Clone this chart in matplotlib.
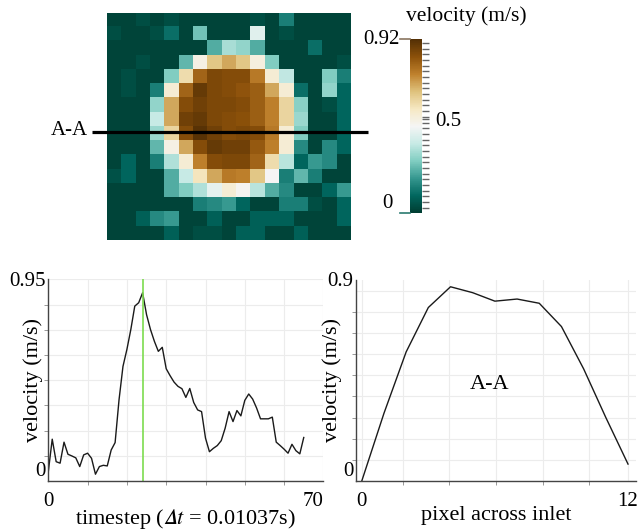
import matplotlib
matplotlib.use("Agg")
import matplotlib.pyplot as plt
import numpy as np
from matplotlib.cm import ScalarMappable
from matplotlib.colors import Normalize

plt.rcParams['font.family'] = ['Liberation Serif', 'DejaVu Serif']
plt.rcParams['mathtext.fontset'] = 'stix'

# velocity map over the inlet (m/s), 16 rows x 17 pixels, top row first
inlet_velocity = [
    [0.02, 0.02, 0.04, 0.02, 0.04, 0.02, 0.02, 0.02, 0.02, 0.02, 0.04, 0.02, 0.14, 0.02, 0.02, 0.02, 0.02],
    [0.04, 0.02, 0.02, 0.04, 0.11, 0.02, 0.26, 0.02, 0.02, 0.02, 0.42, 0.02, 0.04, 0.02, 0.02, 0.02, 0.02],
    [0.02, 0.02, 0.02, 0.02, 0.02, 0.02, 0.02, 0.22, 0.33, 0.30, 0.22, 0.02, 0.02, 0.02, 0.11, 0.02, 0.02],
    [0.02, 0.02, 0.04, 0.02, 0.02, 0.24, 0.49, 0.63, 0.68, 0.63, 0.50, 0.28, 0.02, 0.02, 0.02, 0.02, 0.04],
    [0.02, 0.04, 0.02, 0.02, 0.28, 0.58, 0.79, 0.85, 0.84, 0.84, 0.75, 0.52, 0.36, 0.02, 0.02, 0.28, 0.14],
    [0.02, 0.04, 0.02, 0.14, 0.52, 0.79, 0.89, 0.85, 0.84, 0.82, 0.80, 0.68, 0.52, 0.11, 0.02, 0.30, 0.09],
    [0.02, 0.02, 0.02, 0.30, 0.68, 0.84, 0.87, 0.85, 0.85, 0.84, 0.80, 0.74, 0.60, 0.29, 0.02, 0.04, 0.09],
    [0.02, 0.02, 0.02, 0.37, 0.68, 0.87, 0.89, 0.85, 0.84, 0.83, 0.80, 0.74, 0.60, 0.31, 0.02, 0.02, 0.09],
    [0.02, 0.02, 0.02, 0.31, 0.60, 0.84, 0.91, 0.87, 0.84, 0.85, 0.84, 0.75, 0.52, 0.28, 0.02, 0.02, 0.09],
    [0.02, 0.02, 0.02, 0.24, 0.49, 0.68, 0.84, 0.89, 0.87, 0.87, 0.81, 0.74, 0.52, 0.16, 0.02, 0.16, 0.09],
    [0.02, 0.09, 0.02, 0.14, 0.34, 0.52, 0.74, 0.84, 0.85, 0.85, 0.79, 0.58, 0.35, 0.09, 0.19, 0.16, 0.02],
    [0.05, 0.09, 0.02, 0.02, 0.22, 0.37, 0.56, 0.68, 0.75, 0.74, 0.63, 0.46, 0.14, 0.24, 0.14, 0.02, 0.02],
    [0.02, 0.02, 0.02, 0.02, 0.22, 0.28, 0.34, 0.43, 0.52, 0.47, 0.35, 0.22, 0.16, 0.02, 0.02, 0.09, 0.19],
    [0.02, 0.02, 0.02, 0.02, 0.02, 0.02, 0.14, 0.16, 0.19, 0.09, 0.02, 0.02, 0.14, 0.14, 0.04, 0.02, 0.09],
    [0.02, 0.02, 0.08, 0.16, 0.19, 0.02, 0.02, 0.08, 0.02, 0.02, 0.08, 0.08, 0.08, 0.02, 0.02, 0.02, 0.09],
    [0.02, 0.02, 0.02, 0.02, 0.08, 0.02, 0.04, 0.04, 0.02, 0.08, 0.08, 0.02, 0.02, 0.08, 0.02, 0.02, 0.02],
]
vmin, vmax = 0.0, 0.92
section_row = 7.86  # where A-A cuts the map

# velocity of the inlet over time
timestep_velocity = [
    0.044, 0.197, 0.091, 0.084, 0.183, 0.126, 0.118, 0.109, 0.068, 0.123,
    0.131, 0.107, 0.032, 0.068, 0.074, 0.071, 0.146, 0.181, 0.383, 0.540,
    0.620, 0.714, 0.824, 0.840, 0.887, 0.784, 0.714, 0.658, 0.611, 0.630,
    0.529, 0.496, 0.466, 0.446, 0.435, 0.394, 0.436, 0.370, 0.335, 0.327,
    0.202, 0.138, 0.154, 0.167, 0.190, 0.249, 0.327, 0.280, 0.332, 0.307,
    0.380, 0.410, 0.386, 0.344, 0.293, 0.293, 0.293, 0.301, 0.183, 0.167,
    0.150, 0.131, 0.173, 0.143, 0.128, 0.205,
]
peak_step = 24

# velocity along section A-A
pixels = list(range(13))
section_velocity = [0.0, 0.32, 0.61, 0.82, 0.918, 0.89, 0.85, 0.86, 0.84, 0.73, 0.53, 0.30, 0.08]

W, H = 638, 532
fig = plt.figure(figsize=(W / 100, H / 100), dpi=100)


def box(x0, y0, x1, y1):
    # pixel box (top-left origin) -> figure fraction
    return [x0 / W, 1 - y1 / H, (x1 - x0) / W, (y1 - y0) / H]


# %% velocity map
grid = np.array(inlet_velocity)
ax_map = fig.add_axes(box(107.3, 13, 350.4, 240.2))
ax_map.imshow(grid, cmap='BrBG_r', vmin=vmin, vmax=vmax,
              interpolation='nearest', aspect='auto')
ax_map.plot([-1.57, 17.73], [section_row, section_row], color='black', lw=2.3,
            clip_on=False, solid_capstyle='butt')
ax_map.set_xlim(-0.5, grid.shape[1] - 0.5)
ax_map.set_ylim(grid.shape[0] - 0.5, -0.5)
ax_map.axis('off')
ax_map.text(-1.85, section_row - 0.1, 'A-A', ha='right', va='center', fontsize=15)

# %% colour bar
cax = fig.add_axes(box(410, 39.3, 421.7, 213.3))
cbar = fig.colorbar(ScalarMappable(Normalize(vmin, vmax), 'BrBG_r'), cax=cax)
cbar.outline.set_visible(False)
cbar.set_ticks([0.5])
cbar.set_ticklabels(['0.5'])
cax.set_yticks(np.arange(0.03, vmax, 0.03), minor=True)
cax.tick_params(which='both', right=True, left=False, length=5, width=1,
                color='#666666', labelsize=15, pad=5)
tr = cax.get_yaxis_transform()
cax.plot([-0.85, 0], [vmax, vmax], color='#8a7560', lw=1.2, transform=tr, clip_on=False)
cax.plot([-0.85, 0], [vmin, vmin], color='#2a7a70', lw=1.2, transform=tr, clip_on=False)
cax.text(-0.85, vmax, '0.92', ha='right', va='center', fontsize=15, transform=tr)
cax.text(-1.5, vmin, '0', ha='right', va='bottom', fontsize=15, transform=tr)
fig.text(466.5 / W, 1 - 16 / H, 'velocity (m/s)', ha='center', va='center', fontsize=15.5)


def style(ax):
    for s in ['top', 'right']:
        ax.spines[s].set_visible(False)
    for s in ['left', 'bottom']:
        ax.spines[s].set_color('#444444')
        ax.spines[s].set_linewidth(1)
    ax.grid(which='both', color='#ececec', lw=0.8)
    ax.set_axisbelow(True)
    ax.tick_params(which='major', length=0, labelsize=15)
    ax.tick_params(axis='y', which='major', pad=2)
    ax.tick_params(axis='x', which='major', pad=8)
    ax.tick_params(which='minor', length=3, color='#888888')


# %% velocity over time
ax1 = fig.add_axes(box(48.3, 279.4, 323.4, 481))
ax1.plot(range(len(timestep_velocity)), timestep_velocity, color='#1a1a1a', lw=1.0)
ax1.axvline(peak_step, color='#7ddc4f', lw=1.2)
ax1.set_xlim(0, 70)
ax1.set_ylim(0, 0.95)
ax1.set_xticks([0, 70], ['0', '70'])
ax1.set_yticks([0, 0.95], ['0', '0.95'])
ax1.set_xticks(np.arange(10, 70, 10), minor=True)
ax1.set_yticks(np.linspace(0, 0.95, 9)[1:-1], minor=True)
style(ax1)
ax1.get_yticklabels()[0].set_va('bottom')
ax1.get_xticklabels()[1].set_ha('right')
ax1.set_xlabel('timestep ($\U0001D6E5t$ = 0.01037s)', fontsize=16, va='top')
ax1.xaxis.set_label_coords(0.5, -0.13)
ax1.set_ylabel('velocity (m/s)', fontsize=16)
ax1.yaxis.set_label_coords(-0.02, 0.5)

# %% velocity across section A-A
ax2 = fig.add_axes(box(356, 280, 636, 481))
ax2.plot(pixels, section_velocity, color='#1a1a1a', lw=1.0)
ax2.set_xlim(-0.26, 12.36)
ax2.set_ylim(0, 0.95)
ax2.set_xticks([0, 12], ['0', '12'])
ax2.set_yticks([0, 0.9], ['0', '0.9'])
ax2.set_xticks(np.linspace(-0.26, 12.36, 7)[1:-1], minor=True)
ax2.set_yticks(np.arange(0.1, 0.85, 0.1), minor=True)
style(ax2)
for lab in ax2.get_yticklabels():
    lab.set_va('bottom')
ax2.text(5.78, 0.454, 'A-A', ha='center', va='center', fontsize=16)
ax2.set_xlabel('pixel across inlet', fontsize=16, va='top')
ax2.xaxis.set_label_coords(0.5, -0.125)
ax2.set_ylabel('velocity (m/s)', fontsize=16)
ax2.yaxis.set_label_coords(-0.05, 0.5)

fig.savefig('out.png', dpi=100)
